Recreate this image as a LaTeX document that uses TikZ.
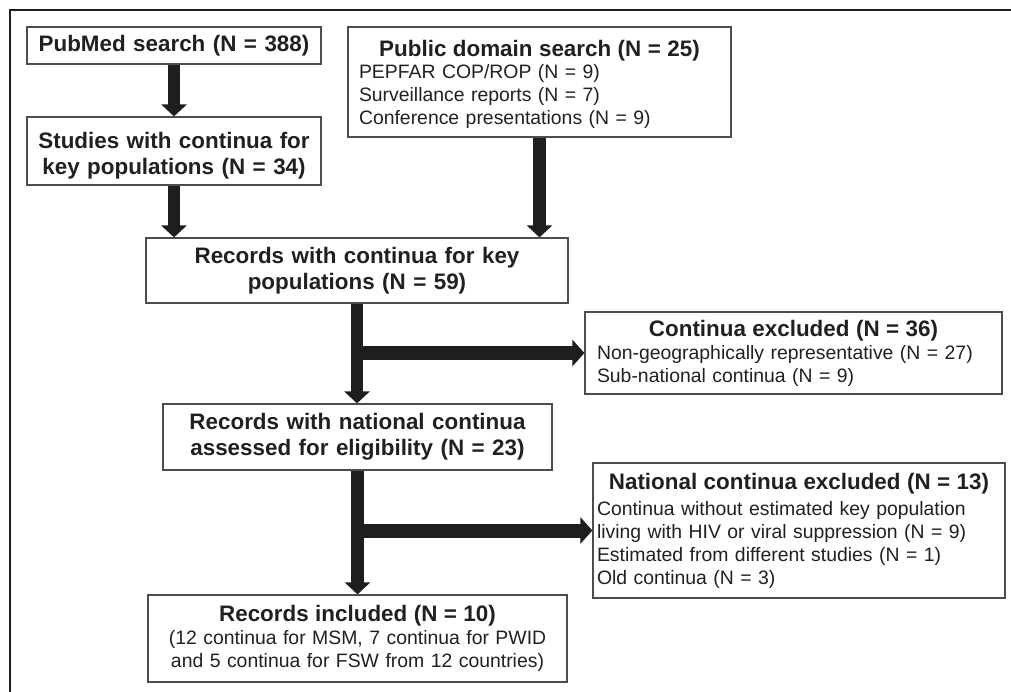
\documentclass[tikz,border=0pt]{standalone}
\usepackage{fontspec}
\setmainfont{Liberation Sans}
\usetikzlibrary{arrows.meta}
\definecolor{txt}{HTML}{231F20}
\definecolor{brd}{HTML}{4D4D4D}
\definecolor{arr}{HTML}{1E1E1E}
\newcommand\bt{\fontsize{22.4}{25.5}\selectfont\bfseries}
\newcommand\rt{\fontsize{19.4}{23}\selectfont\mdseries}
\newcommand\ttl[1]{\makebox[\linewidth]{\bt #1}}
\begin{document}
\begin{tikzpicture}[x=1pt,y=-1pt,
  box/.style={draw=brd,line width=1.2pt,text=txt,inner xsep=0pt,inner ysep=0pt,align=center,font=\bt},
  lbox/.style={draw=brd,line width=1.2pt,text=txt,inner ysep=0pt,align=left,font=\rt},
  fat/.style={draw=arr,line width=12.5pt,-{Triangle[width=25pt,length=12pt]}},
  fath/.style={draw=arr,line width=14pt,-{Triangle[width=26pt,length=12pt]}}]
\useasboundingbox (0,0) rectangle (1011,692);
\draw[arr,line width=2.5pt] (1011,10) -- (10,10) -- (10,692);

\node[box,text width=294pt,minimum height=37pt] (A) at (174,45.5) {PubMed search (N = 388)};
\node[box,text width=294pt,minimum height=68pt] (B) at (174,151) {\rule{0pt}{26pt}Studies with continua for\\key populations (N = 34)};
\node[lbox,inner xsep=11pt,text width=361pt,minimum height=110pt] (C) at (539.5,82)
  {\rule{0pt}{22pt}\ttl{Public domain search (N = 25)}\\[-1pt]PEPFAR COP/ROP (N = 9)\\Surveillance reports (N = 7)\\Conference presentations (N = 9)};
\node[box,text width=422pt,minimum height=65pt] (D) at (357,270.5) {Records with continua for key\\populations (N = 59)};
\node[lbox,inner xsep=12pt,text width=393pt,minimum height=82pt] (E) at (793.5,353)
  {\ttl{Continua excluded (N = 36)}\\Non-geographically representative (N = 27)\\Sub-national continua (N = 9)};
\node[box,text width=389pt,minimum height=66pt] (F) at (357.5,437) {Records with national continua\\assessed for eligibility (N = 23)};
\node[lbox,inner xsep=4pt,text width=404pt,minimum height=135pt] (G) at (799,530.5)
  {\ttl{National continua excluded (N = 13)}\\[3pt]Continua without estimated key population\\living with HIV or viral suppression (N = 9)\\Estimated from different studies (N = 1)\\Old continua (N = 3)};
\node[box,font=\rt,text width=419pt,minimum height=87pt] (H) at (357.5,638.5)
  {{\bt Records included (N = 10)}\\(12 continua for MSM, 7 continua for PWID\\and 5 continua for FSW from 12 countries)};

\draw[fat] (A) -- (B);
\draw[fat] (B.south) -- (B.south |- D.north);
\draw[fat] (C.south) -- (C.south |- D.north);
\draw[fat] (D.south) -- (D.south |- F.north);
\draw[fath] (D.south |- E.west) -- (E.west);
\draw[fat] (F.south) -- (F.south |- H.north);
\draw[fath] (F.south |- G.west) -- (G.west);
\end{tikzpicture}
\end{document}
